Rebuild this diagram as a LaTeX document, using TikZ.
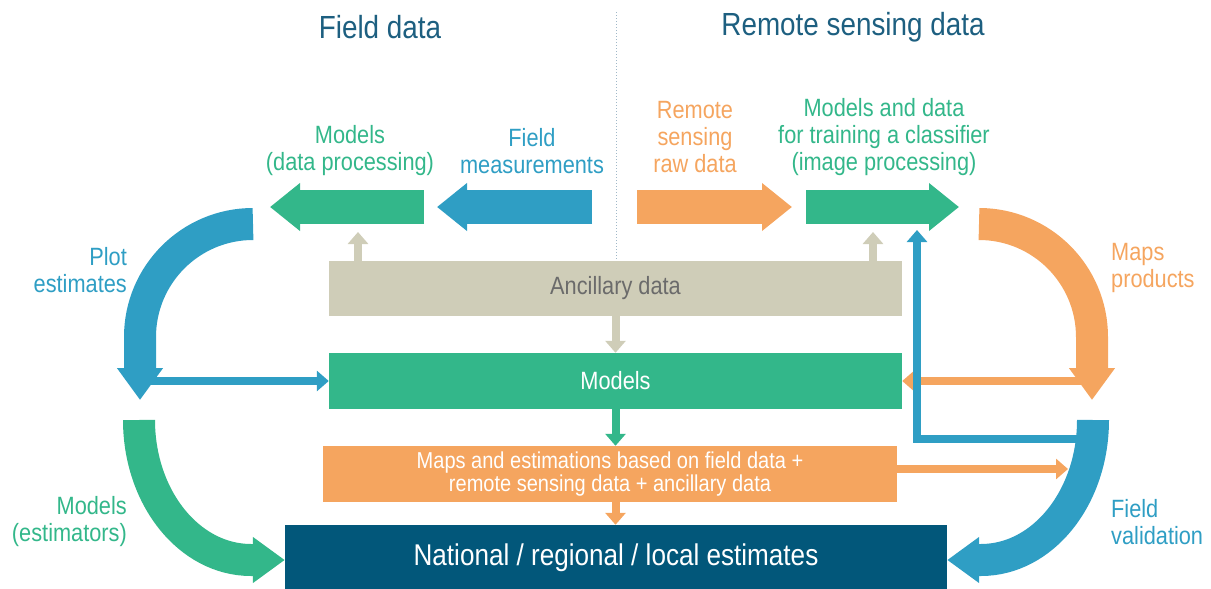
\documentclass[tikz,border=0pt]{standalone}
\usepackage{fontspec}
\setmainfont{Liberation Sans}[FakeStretch=0.87]
\usetikzlibrary{arrows.meta}
\definecolor{fgreen}{HTML}{33B78A}
\definecolor{fblue}{HTML}{2F9EC4}
\definecolor{forange}{HTML}{F5A55F}
\definecolor{fbeige}{HTML}{CFCDB8}
\definecolor{fnavy}{HTML}{02577A}
\definecolor{ftitle}{HTML}{1D5F80}
\definecolor{fgrey}{HTML}{6B6B6B}
\definecolor{fdots}{HTML}{A0B8C8}
\begin{document}
\begin{tikzpicture}[x=1pt,y=-1pt]
		\tikzstyle{ele}=[inner sep=0pt,
			minimum width=573pt,
			minimum height=56pt,
			font=\fontsize{25}{27}\selectfont,
			];
		\tikzstyle{lbl}=[inner sep=0pt,
			align=center,
			font=\fontsize{25}{27}\selectfont,
			];
		\tikzstyle{ttl}=[inner sep=0pt,
			text=ftitle,
			font=\fontsize{32}{34}\selectfont,
			];
		\tikzstyle{flow}=[line width=32pt,-{Triangle[length=32pt,width=44pt]}];
		\tikzstyle{bar}=[line width=34pt,-{Triangle[length=30pt,width=46pt]}];
		\tikzstyle{thin}=[line width=8pt,-{Triangle[length=12pt,width=20pt]}];

		\useasboundingbox (0,0) rectangle (1211,589);

		\node [ttl] (fd) at (380,27) {Field data};
		\node [ttl] (rsd) at (853,27) {Remote sensing data};
		\draw [fdots,line width=1pt,dotted] (616,12) -- (616,261);

		\node [lbl,text=fgreen] (mdp) at (350,151) {Models\\(data processing)};
		\node [lbl,text=fblue] (fm) at (532,151) {Field\\measurements};
		\node [lbl,text=forange] (rs) at (695,137) {Remote\\sensing\\raw data};
		\node [lbl,text=fgreen] (mtc) at (884,137) {Models and data\\for training a classifier\\(image processing)};

		\draw [bar,fgreen] (424,207) -- (270,207);
		\draw [bar,fblue] (592,207) -- (437,207);
		\draw [bar,forange] (637,207) -- (792,207);
		\draw [bar,fgreen] (806,207) -- (959,207);

		\node [ele,fill=fbeige,text=fgrey] (anc) at (615.5,288.5) [minimum height=55pt] {Ancillary data};
		\node [ele,fill=fgreen,text=white] (models) at (615.5,381) {Models};
		\node [ele,fill=forange,text=white,align=center,font=\fontsize{23}{23}\selectfont] (maps) at (610,474) [minimum width=574pt] {Maps and estimations based on field data +\\remote sensing data + ancillary data};
		\node [ele,fill=fnavy,text=white,font=\fontsize{30}{32}\selectfont] (nat) at (616,558) [minimum width=662pt,minimum height=66pt] {National / regional / local estimates};

		\node [lbl,text=fblue,align=right,anchor=east] (pe) at (127,270) {Plot\\estimates};
		\node [lbl,text=fgreen,align=right,anchor=east] (me) at (127,522) {Models\\(estimators)};
		\node [lbl,text=forange,align=left,anchor=west] (mp) at (1111,268) {Maps\\products};
		\node [lbl,text=fblue,align=left,anchor=west] (fv) at (1111,522) {Field\\validation};

		\draw [flow,fblue] (253,224) .. controls (190.6,224) and (140,274.6) .. (140,337) -- (140,400);
		\draw [flow,fgreen] (139,420) .. controls (139,497.3) and (189,560) .. (251,560) -- (nat.west |- 0,560);
		\draw [flow,forange] (979,224) .. controls (1041.4,224) and (1092,274.6) .. (1092,337) -- (1092,400);
		\draw [flow,fblue] (1093,420) .. controls (1093,497.3) and (1043,560) .. (981,560) -- (nat.east |- 0,560);

		\coordinate (ancl) at (358,232);
		\coordinate (ancr) at (873,232);
		\coordinate (pet) at (146,381);
		\coordinate (mpt) at (1090,381);
		\coordinate (fvt) at (1068,469);
		\coordinate (fvb) at (1086,439);
		\coordinate (mtcb) at (917,230);

		\draw [thin,fbeige] (anc.north -| ancl) -- (ancl);
		\draw [thin,fbeige] (anc.north -| ancr) -- (ancr);
		\draw [thin,fbeige] (anc.south) -- (models.north);
		\draw [thin,fgreen] (models.south) -- (models.south |- maps.north);
		\draw [thin,forange] (models.south |- maps.south) -- (models.south |- nat.north);
		\draw [thin,fblue] (pet) -- (models.west);
		\draw [thin,forange] (mpt) -- (models.east);
		\draw [thin,fblue] (fvb) -| (mtcb);
		\draw [thin,forange] (maps.east |- fvt) -- (fvt);
	\end{tikzpicture}
\end{document}
